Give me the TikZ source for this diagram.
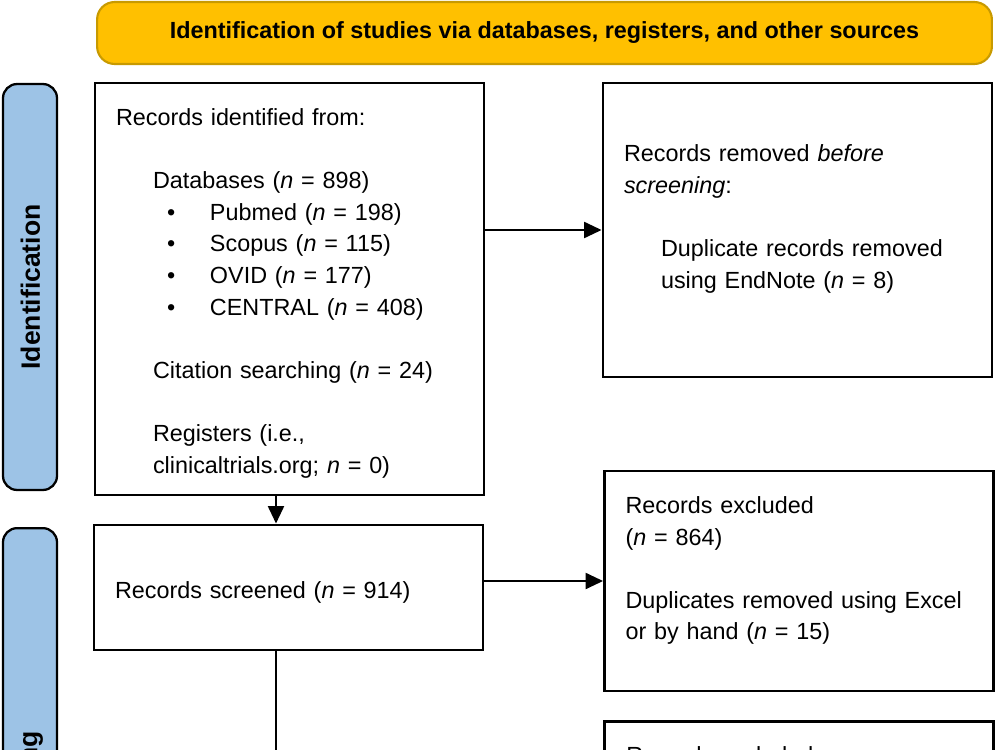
\documentclass[tikz,border=0pt]{standalone}
\usepackage{fontspec}
\setmainfont{Liberation Sans}
\usetikzlibrary{arrows.meta}
\definecolor{headfill}{HTML}{FFC000}
\definecolor{headline}{HTML}{C89A00}
\definecolor{sidefill}{HTML}{9DC3E6}
\newcommand{\bodyfont}{\fontsize{13.3}{18}\selectfont}
\newcommand{\nn}{\textit{n}}
\newcommand{\lift}[1]{\rule{0pt}{#1}}
\begin{document}
\begin{tikzpicture}[x=0.02cm,y=-0.02cm]
\tikzstyle{box}=[draw,line width=1.6pt,inner xsep=0.42cm,inner ysep=0pt,text width=6.94cm,align=left,font=\bodyfont]
\tikzstyle{side}=[draw,line width=1.3pt,fill=sidefill,rounded corners=8pt,minimum width=1.08cm]
\tikzstyle{arrow}=[line width=1.6pt,-{Triangle[length=10pt,width=9pt]}]
\useasboundingbox (0,0) rectangle (1000,750);
% header
\node[draw=headline,line width=1.2pt,fill=headfill,rounded corners=10pt,minimum width=17.9cm,minimum height=1.24cm,font=\fontsize{13.3}{16}\selectfont\bfseries] (H) at (544.5,33) {Identification of studies via databases, registers, and other sources};
% side labels
\node[side,minimum height=8.12cm] (L1) at (30,287) {};
\node[rotate=90,font=\fontsize{15.1}{18}\selectfont\bfseries] (T1) at (30.5,287) {Identification};
\node[side,minimum height=8.12cm,anchor=north] (L2) at (30,527) {};
\node[rotate=90,font=\fontsize{15.1}{18}\selectfont\bfseries] (T2) at (30.5,795) {Screening};
% boxes
\node[box,minimum height=8.24cm] (B1) at (289.5,289) {\lift{14.5pt}Records identified from:\\[18pt]
\hspace*{0.74cm}Databases (\nn{} = 898)\\
\makebox[1.88cm][l]{\hspace*{1.02cm}\textbullet}Pubmed (\nn{} = 198)\\
\makebox[1.88cm][l]{\hspace*{1.02cm}\textbullet}Scopus (\nn{} = 115)\\
\makebox[1.88cm][l]{\hspace*{1.02cm}\textbullet}OVID (\nn{} = 177)\\
\makebox[1.88cm][l]{\hspace*{1.02cm}\textbullet}CENTRAL (\nn{} = 408)\\[18pt]
\hspace*{0.74cm}Citation searching (\nn{} = 24)\\[18pt]
\hspace*{0.74cm}Registers (i.e.,\\
\hspace*{0.74cm}clinicaltrials.org; \nn{} = 0)};
\node[box,minimum height=5.88cm] (B2) at (797.5,230) {\lift{17.5pt}Records removed \textit{before}\\
\textit{screening}:\\[18pt]
\hspace*{0.74cm}Duplicate records removed\\
\hspace*{0.74cm}using EndNote (\nn{} = 8)\\ \strut};
\node[box,minimum height=2.5cm] (B3) at (288.5,587.5) {\lift{15.5pt}Records screened (\nn{} = 914)};
\node[box,minimum height=4.4cm] (B4) at (799,581) {\lift{18.5pt}Records excluded\\
(\nn{} = 864)\\[18pt]
Duplicates removed using Excel\\
or by hand (\nn{} = 15)\\ \strut};
\node[box,minimum height=4.4cm,anchor=north] (B5) at (799,720) {};
\node[anchor=base west,inner sep=0pt,font=\bodyfont] (T5) at (626,763) {Records excluded};
% connectors
\coordinate (D1) at (276,800);
\draw[arrow] (B1.east |- B2.west) -- (B2.west);
\draw[arrow] (B1.south -| D1) -- (B3.north -| D1);
\draw[arrow] (B3.east |- B4.west) -- (B4.west);
\draw[line width=1pt] (B3.south -| D1) -- (D1);
\end{tikzpicture}
\end{document}
